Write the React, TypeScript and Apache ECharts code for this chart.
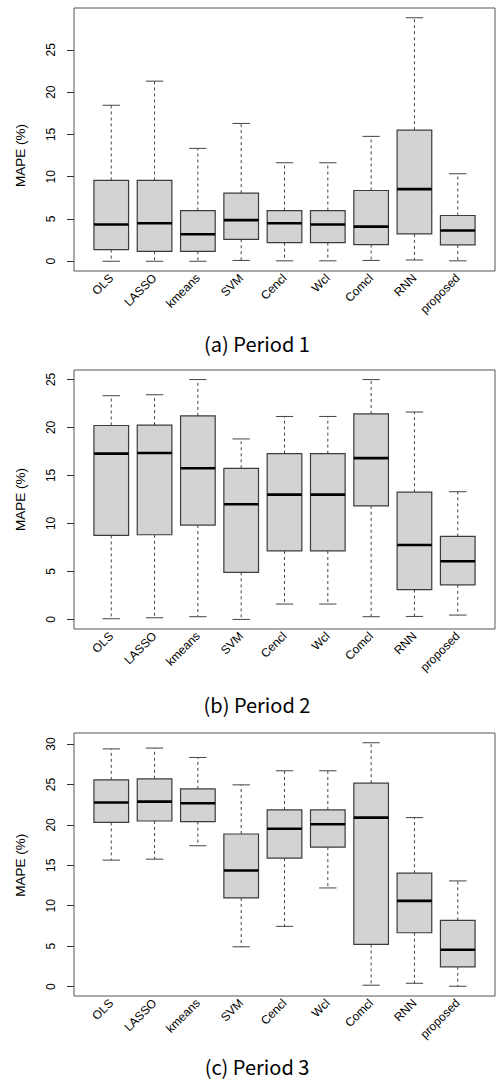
import React, { useEffect, useRef } from "react";
import * as echarts from "echarts";

// Methods (x categories)
const categories = ["OLS", "LASSO", "kmeans", "SVM", "Cencl", "Wcl", "Comcl", "RNN", "proposed"];

// Five-number summaries per method: [min whisker, Q1, median, Q3, max whisker]
const period1 = [
  [0, 1.38, 4.35, 9.56, 18.45],
  [0, 1.18, 4.5, 9.56, 21.3],
  [0, 1.18, 3.2, 6.0, 13.35],
  [0.1, 2.6, 4.86, 8.06, 16.3],
  [0.05, 2.2, 4.5, 6.0, 11.65],
  [0.05, 2.2, 4.35, 6.0, 11.65],
  [0.1, 1.97, 4.1, 8.37, 14.77],
  [0.15, 3.24, 8.53, 15.5, 28.8],
  [0.05, 1.93, 3.63, 5.41, 10.35],
];

const period2 = [
  [0.07, 8.75, 17.27, 20.2, 23.3],
  [0.17, 8.82, 17.34, 20.24, 23.4],
  [0.28, 9.83, 15.74, 21.2, 24.98],
  [0, 4.9, 12.0, 15.74, 18.8],
  [1.6, 7.13, 13.0, 17.27, 21.14],
  [1.6, 7.13, 13.0, 17.27, 21.14],
  [0.28, 11.83, 16.8, 21.4, 24.98],
  [0.31, 3.11, 7.75, 13.25, 21.6],
  [0.45, 3.6, 6.06, 8.65, 13.3],
];

const period3 = [
  [15.64, 20.3, 22.76, 25.57, 29.4],
  [15.76, 20.48, 22.88, 25.7, 29.5],
  [17.42, 20.4, 22.67, 24.45, 28.34],
  [4.92, 10.96, 14.36, 18.87, 24.95],
  [7.45, 15.89, 19.53, 21.85, 26.69],
  [12.2, 17.25, 20.07, 21.85, 26.69],
  [0.17, 5.21, 20.9, 25.16, 30.16],
  [0.41, 6.66, 10.6, 14.03, 20.9],
  [0.04, 2.44, 4.55, 8.19, 13.07],
];

// Y tick labels per panel
const yTicks1 = [0, 5, 10, 15, 20, 25];
const yTicks2 = [0, 5, 10, 15, 20, 25];
const yTicks3 = [0, 5, 10, 15, 20, 25, 30];
const xPositions = [1, 2, 3, 4, 5, 6, 7, 8, 9];

const captions = ["(a) Period 1", "(b) Period 2", "(c) Period 3"];

const FONT = "Liberation Sans";

const frames = [
  { left: 74, top: 8, width: 421, height: 263 },
  { left: 74, top: 370, width: 421, height: 259 },
  { left: 74, top: 733, width: 421, height: 263 },
];
const captionY = [343, 704, 1066];
const X_MIN = 0.14;
const X_MAX = 9.86;

function extent(stats: number[][]) {
  let lo = Infinity;
  let hi = -Infinity;
  stats.forEach((s) => {
    lo = Math.min(lo, s[0]);
    hi = Math.max(hi, s[4]);
  });
  const pad = (hi - lo) * 0.04;
  return [lo - pad, hi + pad];
}

const renderBox = (params: any, api: any) => {
  const x = api.value(0);
  const lo = api.coord([x, api.value(1)]);
  const q1 = api.coord([x, api.value(2)]);
  const md = api.coord([x, api.value(3)]);
  const q3 = api.coord([x, api.value(4)]);
  const hi = api.coord([x, api.value(5)]);
  const bw = api.size([0.8, 0])[0];
  const half = bw / 2;
  const cx = lo[0];
  const capHalf = half / 2;
  const whiskerStyle = { stroke: "#444", lineWidth: 1, lineDash: [3, 3] };
  const capStyle = { stroke: "#444", lineWidth: 1 };
  return {
    type: "group",
    children: [
      { type: "line", shape: { x1: cx, y1: q3[1], x2: cx, y2: hi[1] }, style: whiskerStyle },
      { type: "line", shape: { x1: cx, y1: q1[1], x2: cx, y2: lo[1] }, style: whiskerStyle },
      { type: "line", shape: { x1: cx - capHalf, y1: hi[1], x2: cx + capHalf, y2: hi[1] }, style: capStyle },
      { type: "line", shape: { x1: cx - capHalf, y1: lo[1], x2: cx + capHalf, y2: lo[1] }, style: capStyle },
      {
        type: "rect",
        shape: { x: cx - half, y: q3[1], width: bw, height: q1[1] - q3[1] },
        style: { fill: "#d3d3d3", stroke: "#3c3c3c", lineWidth: 1.2 },
      },
      {
        type: "line",
        shape: { x1: cx - half, y1: md[1], x2: cx + half, y2: md[1] },
        style: { stroke: "#000", lineWidth: 2.6 },
      },
    ],
  };
};

export default function App() {
  const ref = useRef<HTMLDivElement>(null);

  useEffect(() => {
    if (!ref.current) return;
    const chart = echarts.init(ref.current, undefined, { renderer: "svg" });
    const periods = [period1, period2, period3];
    const ticks = [yTicks1, yTicks2, yTicks3];

    const grid: any[] = [];
    const xAxis: any[] = [];
    const yAxis: any[] = [];
    const series: any[] = [];

    periods.forEach((p, i) => {
      const f = frames[i];
      const [mn, mx] = extent(p);
      const ppu = f.height / (mx - mn);
      const tk = ticks[i];
      const t0 = tk[0];
      const t1 = tk[tk.length - 1];
      const ppx = f.width / (X_MAX - X_MIN);

      // Grid A: frame + boxes (R-style padded ranges)
      grid.push({ ...f, show: true, borderColor: "#555", borderWidth: 1, backgroundColor: "transparent" });
      // Grid B: y ticks, tick labels and title over the tick range
      grid.push({
        left: f.left,
        width: f.width,
        top: f.top + (mx - t1) * ppu,
        height: (t1 - t0) * ppu,
        show: false,
      });
      // Grid C: one category band per box, for the rotated method labels
      grid.push({
        left: f.left + (xPositions[0] - 0.5 - X_MIN) * ppx,
        width: categories.length * ppx,
        top: f.top,
        height: f.height,
        show: false,
      });

      xAxis.push({ type: "value", gridIndex: 3 * i, min: X_MIN, max: X_MAX, show: false });
      xAxis.push({ type: "value", gridIndex: 3 * i + 1, show: false });
      xAxis.push({
        type: "category",
        gridIndex: 3 * i + 2,
        data: categories,
        boundaryGap: true,
        axisLine: { show: false },
        axisTick: { show: false },
        splitLine: { show: false },
        axisLabel: {
          interval: 0,
          rotate: 45,
          margin: 5,
          fontSize: 12,
          fontFamily: FONT,
          color: "#000",
          hideOverlap: false,
        },
      });

      yAxis.push({ type: "value", gridIndex: 3 * i, min: mn, max: mx, show: false });
      yAxis.push({
        type: "value",
        gridIndex: 3 * i + 1,
        min: t0,
        max: t1,
        interval: tk[1] - tk[0],
        name: "MAPE (%)",
        nameLocation: "middle",
        nameGap: 47,
        nameRotate: 90,
        nameTextStyle: { fontSize: 13.5, fontFamily: FONT, color: "#000" },
        axisLine: { show: false },
        splitLine: { show: false },
        axisTick: { show: true, length: 7, lineStyle: { color: "#333", width: 1 } },
        axisLabel: {
          rotate: 90,
          margin: 17,
          fontSize: 12,
          fontFamily: FONT,
          color: "#000",
        },
      });
      yAxis.push({ type: "value", gridIndex: 3 * i + 2, show: false });

      series.push({
        type: "custom",
        xAxisIndex: 3 * i,
        yAxisIndex: 3 * i,
        renderItem: renderBox,
        encode: { x: 0, y: [1, 2, 3, 4, 5] },
        data: p.map((s, k) => [xPositions[k], ...s]),
      });
    });

    const graphic = captions.map((c, i) => ({
      type: "text",
      x: 257,
      y: captionY[i],
      style: {
        text: c,
        font: "20px 'Noto Sans CJK KR', 'Noto Sans', sans-serif",
        fill: "#000",
        textAlign: "center",
        textVerticalAlign: "middle",
      },
    }));

    chart.setOption({
      animation: false,
      backgroundColor: "#fff",
      grid,
      xAxis,
      yAxis,
      series,
      graphic,
    });
    return () => chart.dispose();
  }, []);

  return (
    <div
      ref={ref}
      style={{ position: "fixed", left: 0, top: 0, width: 497, height: 1088, background: "#fff" }}
    />
  );
}
